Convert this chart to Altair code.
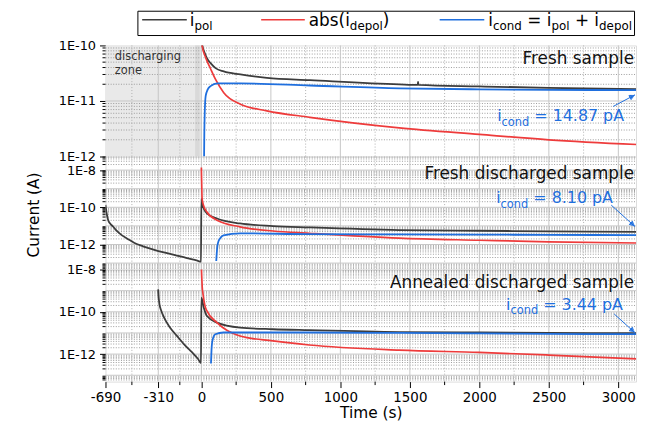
import math
import altair as alt
import pandas as pd

FONT = "DejaVu Sans"
GRAY = "#3c3c3c"
RED = "#ee3b3b"
BLUE = "#1f6fde"

# ---------------- axes ----------------
T_DOMAIN = [-690, 3127]
X_MAJOR = [-690, -310, 0, 500, 1000, 1500, 2000, 2500, 3000]
X_MINOR = [-500, -155, 250, 750, 1250, 1750, 2250, 2750]
SHADE_T = [-690, 0]

W = 535
H1, H2, H3 = 112, 114, 113
LEGEND_H = 35

P1_Y_DOMAIN = [1e-12, 1e-10]
P2_Y_DOMAIN = [4.5e-14, 5.4e-8]
P3_Y_DOMAIN = [5e-14, 1e-8]
P1_Y_TICKS = [1e-12, 1e-11, 1e-10]
P2_Y_TICKS = [1e-12, 1e-10, 1e-8]
P3_Y_TICKS = [1e-12, 1e-10, 1e-8]

# ---------------- data: Fresh sample ----------------
P1_POL_T = [0, 7, 24, 43, 66, 102, 161, 281, 471, 781, 1424, 1556, 1559, 1562, 2000, 2500, 3165]
P1_POL_V = [3e-10, 1.0e-10, 7.3e-11, 5.7e-11, 4.8e-11, 3.9e-11, 3.4e-11, 3.0e-11, 2.6e-11,
            2.37e-11, 1.99e-11, 1.95e-11, 2.2e-11, 1.95e-11, 1.83e-11, 1.72e-11, 1.62e-11]
P1_DEP_T = [0, 5, 31, 66, 102, 161, 281, 471, 781, 1424, 2000, 2500, 3165]
P1_DEP_V = [2e-10, 1e-10, 6e-11, 3.8e-11, 2.44e-11, 1.41e-11, 8.75e-12, 6.65e-12, 5.08e-12,
            3.28e-12, 2.5e-12, 2.0e-12, 1.63e-12]
P1_CON_T = [19, 21, 24, 31, 45, 66, 114, 281, 781, 1424, 2000, 2500, 3165]
P1_CON_V = [8e-13, 2.5e-12, 6e-12, 1.23e-11, 1.6e-11, 1.85e-11, 2.07e-11, 2.07e-11, 1.9e-11,
            1.69e-11, 1.62e-11, 1.59e-11, 1.56e-11]

# ---------------- data: Fresh discharged sample ----------------
P2_POL_T = [-690, -681, -671, -655, -636, -610, -576, -530, -481, -420, -339, -270, -196, -110,
            -29, -3, 0, 5, 40, 112, 278, 515, 776, 1424, 2000, 2500, 3165]
P2_POL_V = [1.35e-10, 4.5e-11, 2.1e-11, 1.3e-11, 9.3e-12, 5.5e-12, 3.3e-12, 2e-12, 1.2e-12, 8e-13,
            5.2e-13, 3.8e-13, 2.8e-13, 1.9e-13, 1.35e-13, 1.2e-13, 2.9e-10, 1.6e-10, 4.7e-11,
            2.5e-11, 1.35e-11, 9.8e-12, 8.3e-12, 6e-12, 5.5e-12, 5.1e-12, 4.7e-12]
P2_DEP_T = [0, 1, 2, 5, 15, 40, 112, 278, 515, 776, 1424, 2000, 2500, 3165]
P2_DEP_V = [1.4e-8, 5e-9, 2.3e-9, 3e-10, 1.3e-10, 5.6e-11, 2e-11, 8.9e-12, 5.3e-12, 4e-12,
            2.2e-12, 1.7e-12, 1.4e-12, 1.2e-12]
P2_CON_T = [107, 110, 114, 118, 123, 140, 159, 278, 776, 1424, 2000, 2500, 3165]
P2_CON_V = [1.3e-13, 3e-13, 7e-13, 1.1e-12, 1.5e-12, 2.4e-12, 3.1e-12, 4e-12, 3.6e-12, 3.5e-12,
            3.4e-12, 3.3e-12, 3.2e-12]

# ---------------- data: Annealed discharged sample ----------------
P3_POL_T = [-311, -307, -300, -290, -269, -235, -197, -160, -126, -90, -55, -25, -3, 0, 17, 40,
            112, 278, 515, 776, 1424, 2000, 2500, 3165]
P3_POL_V = [1.15e-9, 4.5e-10, 2e-10, 1.2e-10, 5.4e-11, 2.2e-11, 1.05e-11, 5.5e-12, 2.95e-12,
            1.7e-12, 1e-12, 6e-13, 3.8e-13, 4.7e-10, 1.6e-10, 6.3e-11, 3.1e-11, 1.8e-11, 1.5e-11,
            1.35e-11, 1.1e-11, 1.05e-11, 1.0e-11, 9.8e-12]
P3_DEP_T = [0, 3, 6, 12, 25, 40, 112, 278, 515, 776, 1424, 2000, 2500, 3165]
P3_DEP_V = [1.3e-8, 4e-9, 1.5e-9, 6.7e-10, 2e-10, 1.1e-10, 3.1e-11, 7.2e-12, 4.2e-12, 2.7e-12,
            1.55e-12, 1.2e-12, 9e-13, 5.8e-13]
P3_CON_T = [69, 71, 73, 76, 85, 100, 159, 776, 1424, 2000, 2500, 3165]
P3_CON_V = [3.6e-13, 8e-13, 1.6e-12, 3e-12, 6e-12, 8.7e-12, 1.05e-11, 1.05e-11, 1e-11, 9.5e-12,
            9e-12, 8.7e-12]

PANEL_TITLES = ["Fresh sample", "Fresh discharged sample", "Annealed discharged sample"]
ICOND_LABELS = ["14.87 pA", "8.10 pA", "3.44 pA"]

ONE = pd.DataFrame({"k": [0]})

# DejaVu Sans advance widths (units per 2048 em)
ADV = {' ': 651, '(': 799, ')': 799, '+': 1716, '=': 1716, '.': 651, 'A': 1401,
       'a': 1255, 'b': 1300, 'c': 1126, 'd': 1300, 'e': 1260, 'i': 569, 'l': 569,
       'n': 1298, 'o': 1253, 'p': 1300, 's': 1067}


def tw(s, size):
    return sum(ADV.get(c, 1303) for c in s) / 2048.0 * size


def rich(pieces, x0, y_main, y_sub, fmain, fsub, color):
    layers = []
    x = x0
    for txt, sub in pieces:
        size = fsub if sub else fmain
        lead = len(txt) - len(txt.lstrip(' '))
        x += tw(' ' * lead, size)
        body = txt.strip(' ')
        layers.append(
            alt.Chart(ONE).mark_text(align="left", baseline="alphabetic", font=FONT,
                                     fontSize=size, color=color)
            .encode(x=alt.value(x), y=alt.value(y_sub if sub else y_main), text=alt.value(body))
        )
        x += tw(body, size)
    return layers


def seg(xa, ya, xb, yb, width):
    return alt.Chart(ONE).mark_rule(color=BLUE, strokeWidth=width).encode(
        x=alt.value(xa), y=alt.value(ya), x2=alt.value(xb), y2=alt.value(yb))


def arrow(x0, y0, x1, y1):
    dx, dy = x1 - x0, y1 - y0
    ln = math.hypot(dx, dy)
    ux, uy = dx / ln, dy / ln
    px, py = -uy, ux
    layers = [seg(x0, y0, x1, y1, 1)]
    # small arrow head made of short strokes
    for k in (0.0, 0.6, 1.2, 1.8, 2.4):
        bx, by = x1 - ux * 5.5, y1 - uy * 5.5
        w = 2.6 * (1 - k / 3.0)
        layers.append(seg(bx + px * w + ux * k * 1.8, by + py * w + uy * k * 1.8,
                          bx - px * w + ux * k * 1.8, by - py * w + uy * k * 1.8, 1.2))
    return layers


x_scale = alt.Scale(domain=T_DOMAIN, nice=False, zero=False)


def decades(dom):
    lo = math.floor(math.log10(dom[0]) + 1e-9)
    hi = math.ceil(math.log10(dom[1]) - 1e-9)
    major = [float(f"1e{e}") for e in range(lo, hi + 1)]
    minor = [float(f"{m}e{e}") for e in range(lo, hi + 1) for m in range(2, 10)]
    major = [v for v in major if dom[0] < v < dom[1]]
    minor = [v for v in minor if dom[0] < v < dom[1]]
    return major, minor


def panel(idx, dom, ticks, H, series, extras, xaxis):
    y_scale = alt.Scale(type="log", domain=dom, nice=False)
    yaxis = alt.Axis(values=ticks, labelExpr="'1E' + round(log(datum.value)/LN10)", title=None,
                     grid=False, domain=False, tickSize=6, tickColor="black", tickWidth=1,
                     labelFont=FONT, labelFontSize=13, labelColor="black", labelPadding=4)

    def X():
        return alt.X("t:Q", scale=x_scale, axis=xaxis)

    def Y():
        return alt.Y("v:Q", scale=y_scale, axis=yaxis)

    layers = []
    if idx == 0:
        shade = pd.DataFrame({"t": [SHADE_T[0]], "t2": [SHADE_T[1]]})
        layers.append(alt.Chart(shade).mark_rect(color="#e9e9e9").encode(
            x=X(), x2="t2:Q", y=alt.value(0), y2=alt.value(H)))
        strip = pd.DataFrame({"t": [-45], "t2": [-12]})
        layers.append(alt.Chart(strip).mark_rect(color="#d9d9d9").encode(
            x=X(), x2="t2:Q", y=alt.value(0), y2=alt.value(H)))
    major, minor = decades(dom)
    layers.append(alt.Chart(pd.DataFrame({"v": minor})).mark_rule(
        color="#9c9c9c", strokeWidth=1, strokeDash=[1, 1.6]).encode(
        y=Y(), x=alt.value(0), x2=alt.value(W)))
    layers.append(alt.Chart(pd.DataFrame({"t": X_MINOR})).mark_rule(
        color="#b0b0b0", strokeWidth=1, strokeDash=[1, 2]).encode(
        x=X(), y=alt.value(0), y2=alt.value(H)))
    layers.append(alt.Chart(pd.DataFrame({"v": major})).mark_rule(
        color="#c6c6c6", strokeWidth=1).encode(y=Y(), x=alt.value(0), x2=alt.value(W)))
    layers.append(alt.Chart(pd.DataFrame({"t": X_MAJOR[1:]})).mark_rule(
        color="#c6c6c6", strokeWidth=1).encode(x=X(), y=alt.value(0), y2=alt.value(H)))
    # minor y ticks on the left
    layers.append(alt.Chart(pd.DataFrame({"v": minor})).mark_rule(
        color="black", strokeWidth=1).encode(y=Y(), x=alt.value(-3), x2=alt.value(0)))
    if idx == 2:
        layers.append(alt.Chart(pd.DataFrame({"t": X_MINOR})).mark_rule(
            color="black", strokeWidth=1).encode(x=X(), y=alt.value(H), y2=alt.value(H + 3.5)))
    for (t, v), col, sw in series:
        df = pd.DataFrame({"t": t, "v": v})
        layers.append(alt.Chart(df).mark_line(color=col, strokeWidth=sw, clip=True,
                                              interpolate="monotone").encode(x=X(), y=Y()))
    layers.extend(extras)
    return alt.layer(*layers).properties(width=W, height=H)


# ---------------- legend ----------------
leg = []
leg.append(alt.Chart(ONE).mark_rect(fill="white", stroke="black", strokeWidth=1).encode(
    x=alt.value(32.7), x2=alt.value(W - 1.5), y=alt.value(0.5), y2=alt.value(25)))
for (a, b), col in [((37, 82), GRAY), ((157, 201), RED), ((337, 382), BLUE)]:
    leg.append(alt.Chart(ONE).mark_rule(color=col, strokeWidth=1.5).encode(
        x=alt.value(a), x2=alt.value(b), y=alt.value(9), y2=alt.value(9)))
leg += rich([("i", False), ("pol", True)], 85, 15, 19, 17, 12, "black")
leg += rich([("abs(i", False), ("depol", True), (")", False)], 205, 15, 19, 17, 12, "black")
leg += rich([("i", False), ("cond", True), (" = i", False), ("pol", True), (" + i", False),
             ("depol", True)], 386, 15, 19, 17, 12, "black")
legend = alt.layer(*leg).properties(width=W, height=LEGEND_H,
                                     view=alt.ViewBackground(stroke="transparent"))

TITLE_X = W - 2


def title_text(txt, y):
    return alt.Chart(ONE).mark_text(align="right", baseline="alphabetic", font=FONT, fontSize=17,
                                    color="#111111").encode(
        x=alt.value(TITLE_X), y=alt.value(y), text=alt.value(txt))


# panel 1 extras
ex1 = [title_text(PANEL_TITLES[0], 19.2)]
ex1.append(alt.Chart(ONE).mark_text(align="left", baseline="alphabetic", font=FONT, fontSize=11.5,
                                    color="#333333").encode(x=alt.value(9.4), y=alt.value(14.8),
                                                            text=alt.value("discharging")))
ex1.append(alt.Chart(ONE).mark_text(align="left", baseline="alphabetic", font=FONT, fontSize=11.5,
                                    color="#333333").encode(x=alt.value(9.4), y=alt.value(29.2),
                                                            text=alt.value("zone")))
ex1 += rich([("i", False), ("cond", True), (" = " + ICOND_LABELS[0], False)], 395, 76.5, 81.5,
            16, 11.5, BLUE)
ex1 += arrow(512, 61.5, W - 1, 49.8)

ex2 = [title_text(PANEL_TITLES[1], 22.3)]
ex2 += rich([("i", False), ("cond", True), (" = " + ICOND_LABELS[1], False)], 394, 47.3, 52,
            16, 11.5, BLUE)
ex2 += arrow(510, 49, W - 1, 70.7)
ex2.append(alt.Chart(ONE).mark_text(align="center", baseline="middle", font=FONT, fontSize=15.5,
                                    angle=270, color="black").encode(
    x=alt.value(-72.3), y=alt.value(59), text=alt.value("Current (A)")))

ex3 = [title_text(PANEL_TITLES[2], 18.8)]
ex3 += rich([("i", False), ("cond", True), (" = " + ICOND_LABELS[2], False)], 404, 40.5, 45,
            16, 11.5, BLUE)
ex3 += arrow(513, 44.8, W - 1, 63.8)

xaxis3 = alt.Axis(values=X_MAJOR, labelExpr="'' + datum.value", title="Time (s)", grid=False,
                  domain=False, tickSize=6, tickColor="black", labelFlush=False,
                  labelFont=FONT, labelFontSize=13.5, labelColor="black", labelPadding=3,
                  titleFont=FONT, titleFontSize=15.5, titleFontWeight="normal",
                  titleColor="black", titlePadding=2)

p1 = panel(0, P1_Y_DOMAIN, P1_Y_TICKS, H1,
           [((P1_POL_T, P1_POL_V), GRAY, 1.8), ((P1_DEP_T, P1_DEP_V), RED, 1.7),
            ((P1_CON_T, P1_CON_V), BLUE, 1.8)], ex1, None)
p2 = panel(1, P2_Y_DOMAIN, P2_Y_TICKS, H2,
           [((P2_POL_T, P2_POL_V), GRAY, 1.8), ((P2_DEP_T, P2_DEP_V), RED, 1.7),
            ((P2_CON_T, P2_CON_V), BLUE, 1.8)], ex2, None)
p3 = panel(2, P3_Y_DOMAIN, P3_Y_TICKS, H3,
           [((P3_POL_T, P3_POL_V), GRAY, 1.8), ((P3_DEP_T, P3_DEP_V), RED, 1.7),
            ((P3_CON_T, P3_CON_V), BLUE, 1.8)], ex3, xaxis3)

chart = (
    alt.vconcat(legend, p1, p2, p3, spacing=0, bounds="flush")
    .resolve_scale(y="independent")
    .properties(padding={"left": 18.3, "top": 0, "right": 0, "bottom": 0})
    .configure_view(stroke="black", strokeWidth=1.3)
    .configure(background="white", font=FONT)
)

chart.save("out.html", embed_options={"renderer": "svg", "actions": False})
